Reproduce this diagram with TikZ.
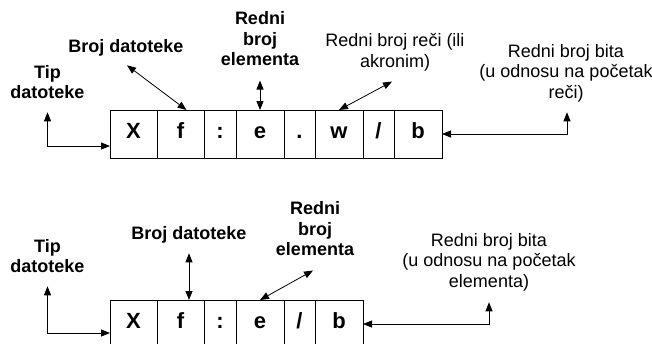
\documentclass[tikz,border=0pt]{standalone}
\usepackage{fontspec}
\setmainfont{Liberation Sans}
\usetikzlibrary{arrows.meta,positioning,calc}

\tikzset{
  cell/.style={draw, minimum height=48pt, inner sep=0pt, outer sep=0pt,
    text height=13pt, text depth=4pt, font=\fontsize{22}{26}\selectfont\bfseries},
  lbl/.style={align=center, inner sep=0pt, font=\fontsize{18}{20.5}\selectfont},
  blbl/.style={lbl, font=\fontsize{18}{20.5}\selectfont\bfseries},
  pointer/.style={{Triangle[length=9pt,width=7pt]}-{Triangle[length=9pt,width=7pt]}},
}

\begin{document}
\begin{tikzpicture}[x=1pt, y=-1pt, line width=0.8pt]
\useasboundingbox (0,0) rectangle (652,343);

% upper address: X f : e . w / b
\node[cell, minimum width=47pt] (x1) at (133.5,134) {X};
\node[cell, minimum width=47pt, right=0pt of x1] (f1) {f};
\node[cell, minimum width=32pt, right=0pt of f1] (c1) {:};
\node[cell, minimum width=48pt, right=0pt of c1] (e1) {e};
\node[cell, minimum width=31pt, right=0pt of e1] (d1) {.};
\node[cell, minimum width=48pt, right=0pt of d1] (w1) {w};
\node[cell, minimum width=31pt, right=0pt of w1] (s1) {/};
\node[cell, minimum width=48pt, right=0pt of s1] (b1) {b};

\node[blbl] (tip1) at (47.5,82) {Tip\\datoteke};
\node[blbl] (bd1) at (126,47.5) {Broj datoteke};
\node[blbl] (rbe1) at (260,39) {Redni\\broj\\elementa};
\node[lbl] (rbr1) at (395,52.5) {Redni broj reči (ili\\akronim)};
\node[lbl] (rbb1) at (566,73) {Redni broj bita\\(u odnosu na početak\\reči)};

\draw[pointer] ($(tip1.south)+(0,13)$) |- ($(x1.west)+(0,12)$);
\draw[pointer] ($(f1.north)+(6,0)$) -- ($(bd1.south)+(1,9)$);
\draw[pointer] (e1.north) -- ($(rbe1.south)+(0,14)$);
\draw[pointer] (w1.north) -- ($(rbr1.south)+(-3,10)$);
\draw[pointer] (b1.east) -| ($(rbb1.south)+(1,10)$);

% lower address: X f : e / b
\node[cell, minimum width=47pt] (x2) at (133.5,324) {X};
\node[cell, minimum width=47pt, right=0pt of x2] (f2) {f};
\node[cell, minimum width=32pt, right=0pt of f2] (c2) {:};
\node[cell, minimum width=48pt, right=0pt of c2] (e2) {e};
\node[cell, minimum width=31pt, right=0pt of e2] (s2) {/};
\node[cell, minimum width=48pt, right=0pt of s2] (b2) {b};

\node[blbl] (tip2) at (47.5,256) {Tip\\datoteke};
\node[blbl] (bd2) at (189,234.5) {Broj datoteke};
\node[blbl] (rbe2) at (315,229) {Redni\\broj\\elementa};
\node[lbl] (rbb2) at (489,262) {Redni broj bita\\(u odnosu na početak\\elementa)};

\draw[pointer] ($(tip2.south)+(0,13)$) |- ($(x2.west)+(0,9)$);
\draw[pointer] ($(f2.north)+(8.5,0)$) -- ($(bd2.south)+(0,10)$);
\draw[pointer] (e2.north) -- ($(rbe2.south)+(-2,14)$);
\draw[pointer] (b2.east) -| ($(rbb2.south)+(0,11)$);
\end{tikzpicture}
\end{document}
